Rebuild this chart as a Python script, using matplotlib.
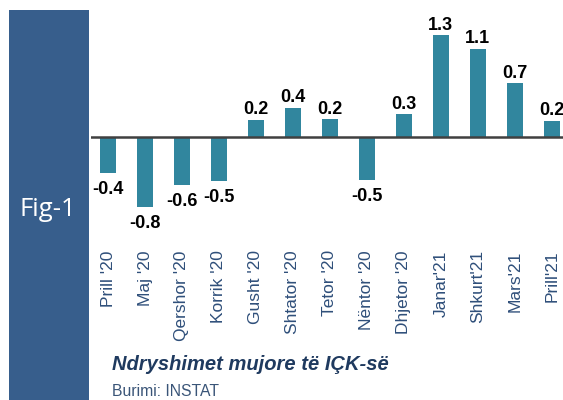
import matplotlib.pyplot as plt
from matplotlib.patches import Rectangle

months = ["Prill '20", "Maj '20", "Qershor '20", "Korrik '20", "Gusht '20", "Shtator '20",
          "Tetor '20", "Nëntor '20", "Dhjetor '20", "Janar'21", "Shkurt'21", "Mars'21", "Prill'21"]
values = [-0.44, -0.87, -0.59, -0.54, 0.22, 0.37, 0.23, -0.53, 0.29, 1.28, 1.11, 0.68, 0.21]
labels = ["-0.4", "-0.8", "-0.6", "-0.5", "0.2", "0.4", "0.2", "-0.5", "0.3", "1.3", "1.1", "0.7", "0.2"]

W, H = 563, 400
fig = plt.figure(figsize=(W / 100, H / 100), dpi=100)

# blue side panel with the figure number
fig.patches.append(Rectangle((9 / W, 0), 80 / W, 390 / H, transform=fig.transFigure,
                             facecolor='#375E8C', edgecolor='none'))
fig.text(48 / W, 1 - 210 / H, 'Fig-1', color='white', fontsize=18.5, family='Open Sans',
         fontweight='medium', ha='center', va='center')

# plot area in pixels: x 91..563, y 20..235
ax = fig.add_axes([91 / W, 1 - 235 / H, (563 - 91) / W, (235 - 20) / H])
x = list(range(len(months)))
ax.bar(x, values, width=0.44, color='#31869E')
ax.axhline(0, color='#404040', linewidth=1.8)

for xi, v, lab in zip(x, values, labels):
    if v >= 0:
        ax.annotate(lab, (xi, v), xytext=(0, 1), textcoords='offset points', ha='center',
                    va='bottom', fontsize=13, fontweight='bold', family='Liberation Sans')
    else:
        ax.annotate(lab, (xi, v), xytext=(0, -6), textcoords='offset points', ha='center',
                    va='top', fontsize=13, fontweight='bold', family='Liberation Sans')

ax.set_xlim(-0.46, 12.3)
ax.set_ylim(-(235 - 137.3) / 80, (137.3 - 20) / 80)
ax.set_xticks(x)
ax.set_xticklabels(months, rotation=90, fontsize=12.5, color='#2F4F7A', family='Liberation Sans')
ax.tick_params(axis='x', length=0, pad=11)
ax.set_yticks([])
for s in ax.spines.values():
    s.set_visible(False)

fig.text(112 / W, 1 - 365 / H, 'Ndryshimet mujore të IÇK-së', color='#1F3A5F', fontsize=14.5,
         fontweight='bold', fontstyle='italic', family='Liberation Sans', va='center')
fig.text(112 / W, 1 - 392 / H, 'Burimi: INSTAT', color='#3A5578', fontsize=11.3,
         family='Liberation Sans', va='center')

fig.savefig('out.png', dpi=100)
